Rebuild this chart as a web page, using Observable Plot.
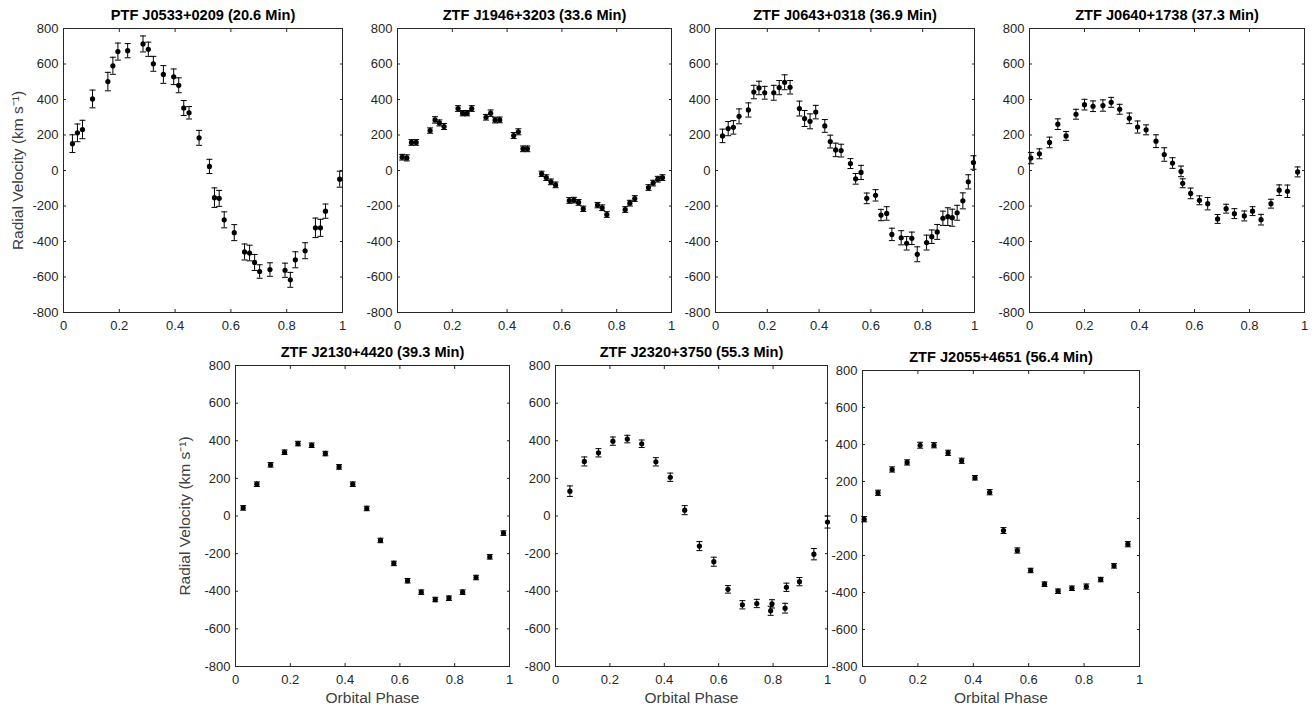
<!DOCTYPE html>
<html><head><meta charset="utf-8">
<script src="https://cdn.jsdelivr.net/npm/d3@7"></script>
<script src="https://cdn.jsdelivr.net/npm/@observablehq/plot@0.6"></script>
<style>
html,body{margin:0;padding:0;background:#fff;}
#chart{position:relative;width:1315px;height:707px;overflow:hidden;background:#fff;}
.panel{position:absolute;}
</style></head><body><div id="chart"></div>
<script>
// ---------- data ----------
const titles = [
  "PTF J0533+0209 (20.6 Min)", "ZTF J1946+3203 (33.6 Min)", "ZTF J0643+0318 (36.9 Min)",
  "ZTF J0640+1738 (37.3 Min)", "ZTF J2130+4420 (39.3 Min)", "ZTF J2320+3750 (55.3 Min)",
  "ZTF J2055+4651 (56.4 Min)"
];
const xTicks = [0, 0.2, 0.4, 0.6, 0.8, 1];
const yTicks = [-800, -600, -400, -200, 0, 200, 400, 600, 800];
const yLabel = "Radial Velocity (km s\u207B\u00B9)";
const xLabel = "Orbital Phase";

const p1Phase = [0.032,0.050,0.068,0.104,0.159,0.177,0.195,0.230,0.285,0.304,0.322,0.358,0.395,0.413,0.431,0.450,0.486,0.523,0.541,0.558,0.576,0.612,0.649,0.667,0.685,0.703,0.740,0.794,0.813,0.831,0.866,0.903,0.921,0.939,0.990];
const p1Rv    = [151,212,231,403,501,590,670,675,713,683,601,541,528,480,352,325,184,23,-153,-157,-278,-350,-459,-465,-518,-569,-558,-562,-616,-503,-452,-323,-323,-229,-49];
const p1Err   = [50,50,52,50,52,48,48,40,45,40,42,50,44,42,42,35,42,40,55,45,45,45,45,44,45,38,38,40,42,45,45,55,48,40,45];

const p2Phase = [0.017,0.034,0.051,0.068,0.119,0.137,0.153,0.170,0.221,0.238,0.254,0.271,0.323,0.340,0.356,0.373,0.424,0.441,0.458,0.474,0.526,0.543,0.560,0.577,0.627,0.644,0.661,0.678,0.730,0.747,0.764,0.831,0.848,0.866,0.916,0.933,0.950,0.967];
const p2Rv    = [75,71,158,158,225,285,268,248,349,323,323,349,300,323,284,285,197,218,122,122,-19,-40,-64,-81,-169,-167,-180,-216,-195,-210,-248,-220,-184,-158,-96,-71,-49,-40];
const p2Err   = [16,17,16,16,15,18,17,17,16,15,15,16,16,18,16,16,17,17,16,16,15,16,16,16,16,16,16,15,15,16,16,16,16,16,16,16,16,16];

const p3Phase = [0.027,0.049,0.069,0.091,0.127,0.148,0.168,0.190,0.225,0.246,0.267,0.288,0.324,0.344,0.365,0.387,0.422,0.443,0.464,0.485,0.521,0.541,0.562,0.584,0.618,0.639,0.661,0.681,0.717,0.738,0.758,0.779,0.815,0.835,0.856,0.878,0.897,0.914,0.933,0.955,0.976,0.996];
const p3Rv    = [195,236,243,305,341,442,465,438,438,467,497,469,349,293,277,329,251,163,116,112,39,-47,-11,-157,-140,-251,-242,-360,-379,-410,-382,-472,-406,-373,-346,-269,-260,-266,-238,-171,-64,45];
const p3Err   = [38,40,38,42,40,38,38,36,42,40,42,38,42,45,42,38,36,36,38,36,28,30,40,30,32,32,38,35,40,38,35,42,42,38,42,40,50,48,42,45,40,38];

const p4Phase = [0.005,0.036,0.073,0.103,0.133,0.169,0.200,0.231,0.267,0.297,0.328,0.363,0.393,0.424,0.460,0.490,0.520,0.551,0.557,0.586,0.618,0.648,0.684,0.715,0.745,0.781,0.811,0.842,0.878,0.908,0.938,0.975];
const p4Rv    = [70,94,158,261,195,317,371,362,366,384,345,294,245,229,165,90,42,-5,-72,-129,-168,-187,-273,-215,-243,-256,-229,-277,-187,-111,-117,-8];
const p4Err   = [32,28,30,30,25,28,30,30,32,28,28,30,34,28,36,38,30,30,25,30,25,35,25,25,28,28,25,30,25,30,35,28];

const p5Phase = [0.028,0.078,0.128,0.179,0.228,0.278,0.328,0.378,0.428,0.479,0.529,0.578,0.628,0.678,0.729,0.779,0.829,0.878,0.928,0.978];
const p5Rv    = [43,169,272,339,385,376,332,261,169,40,-130,-252,-344,-405,-444,-437,-405,-327,-217,-91];
const p5Err   = [12,12,12,12,12,12,12,12,12,12,12,12,12,12,12,12,12,12,12,12];

const p6Phase = [0.053,0.106,0.158,0.211,0.264,0.317,0.369,0.422,0.475,0.529,0.582,0.634,0.687,0.740,0.791,0.796,0.844,0.849,0.897,0.950,1.0];
const p6Rv    = [132,290,336,398,409,384,288,206,31,-160,-243,-390,-472,-465,-504,-467,-490,-379,-349,-203,-32];
const p6Err   = [28,24,22,22,20,20,22,22,24,24,24,20,22,22,24,22,26,22,22,30,32];

const p7Phase = [0.006,0.056,0.107,0.161,0.208,0.258,0.309,0.358,0.406,0.459,0.509,0.559,0.607,0.657,0.706,0.756,0.808,0.860,0.908,0.958];
const p7Rv    = [-4,139,265,303,396,396,355,312,220,142,-65,-173,-281,-355,-393,-377,-368,-330,-256,-139];
const p7Err   = [14,14,14,14,16,14,14,14,12,14,16,14,12,12,12,12,14,12,12,14];

// ---------- layout ----------
const panels = [
  {phase:p1Phase, rv:p1Rv, err:p1Err, L:63,   R:342,  T:28,  B:312, ylab:true,  xlab:false, yOff:45},
  {phase:p2Phase, rv:p2Rv, err:p2Err, L:397,  R:671,  T:28,  B:312, ylab:false, xlab:false},
  {phase:p3Phase, rv:p3Rv, err:p3Err, L:715,  R:974,  T:28,  B:312, ylab:false, xlab:false},
  {phase:p4Phase, rv:p4Rv, err:p4Err, L:1029, R:1304, T:28,  B:312, ylab:false, xlab:false},
  {phase:p5Phase, rv:p5Rv, err:p5Err, L:235,  R:509,  T:365, B:666, ylab:true,  xlab:true, yOff:50},
  {phase:p6Phase, rv:p6Rv, err:p6Err, L:555,  R:827,  T:365, B:666, ylab:false, xlab:true},
  {phase:p7Phase, rv:p7Rv, err:p7Err, L:862,  R:1139, T:370, B:666, ylab:false, xlab:true}
];

const FONT = "'Liberation Sans', Arial, Helvetica, sans-serif";
const AX = "#262626";
const LABEL = "#404040";
const TICK_FS = 13;
const LABEL_FS = 15.5;
const TITLE_FS = 14.6;
const cap = {draw(ctx){ ctx.moveTo(-3, 0); ctx.lineTo(3, 0); }};
const fmtX = d => d3.format("~g")(d);
const fmtY = d => String(d);

const root = document.getElementById("chart");
panels.forEach((p, k) => {
  const data = p.phase.map((x, i) => ({x, y: p.rv[i], e: p.err[i]}));
  const ml = 72, mr = 14, mt = 36, mb = p.xlab ? 46 : 26;
  const W = (p.R - p.L) + ml + mr, H = (p.B - p.T) + mt + mb;
  const marks = [
    Plot.frame({stroke: AX, strokeWidth: 1}),
    Plot.axisX({anchor: "bottom", ticks: xTicks, tickSize: -3, tickPadding: 11, tickFormat: fmtX,
      fontSize: TICK_FS, fill: AX, stroke: AX, label: null}),
    Plot.axisX({anchor: "top", ticks: xTicks, tickSize: -3, fill: "none", stroke: AX, label: null}),
    Plot.axisY({anchor: "left", ticks: yTicks, tickSize: -3, tickPadding: 8, tickFormat: fmtY,
      fontSize: TICK_FS, fill: AX, stroke: AX, label: null}),
    Plot.axisY({anchor: "right", ticks: yTicks, tickSize: -3, fill: "none", stroke: AX, label: null}),
    Plot.ruleX(data, {x: "x", y1: d => d.y - d.e, y2: d => d.y + d.e, stroke: "#000", strokeWidth: 1}),
    Plot.dot(data, {x: "x", y: d => d.y - d.e, symbol: cap, r: 3, stroke: "#000", fill: "none", strokeWidth: 1}),
    Plot.dot(data, {x: "x", y: d => d.y + d.e, symbol: cap, r: 3, stroke: "#000", fill: "none", strokeWidth: 1}),
    Plot.dot(data, {x: "x", y: "y", r: 2.6, fill: "#000", stroke: "none"}),
    Plot.text([titles[k]], {frameAnchor: "top", dy: -13, textAnchor: "middle", lineAnchor: "middle",
      fontWeight: "bold", fontSize: TITLE_FS, fill: "#000", fontFamily: FONT})
  ];
  if (p.ylab) marks.push(Plot.text([yLabel], {frameAnchor: "left", rotate: -90, dx: -p.yOff,
    textAnchor: "middle", lineAnchor: "middle", fontSize: LABEL_FS, fill: LABEL, fontFamily: FONT}));
  if (p.xlab) marks.push(Plot.text([xLabel], {frameAnchor: "bottom", dy: 32,
    textAnchor: "middle", lineAnchor: "middle", fontSize: LABEL_FS, fill: LABEL, fontFamily: FONT}));
  const svg = Plot.plot({
    width: W, height: H,
    marginLeft: ml, marginRight: mr, marginTop: mt, marginBottom: mb,
    style: {background: "transparent", overflow: "visible", fontFamily: FONT, color: AX},
    x: {domain: [0, 1]},
    y: {domain: [-800, 800]},
    marks
  });
  const div = document.createElement("div");
  div.className = "panel";
  div.style.left = (p.L - ml) + "px";
  div.style.top = (p.T - mt) + "px";
  div.style.width = W + "px";
  div.style.height = H + "px";
  div.appendChild(svg);
  root.appendChild(div);
});
</script>
</body></html>
